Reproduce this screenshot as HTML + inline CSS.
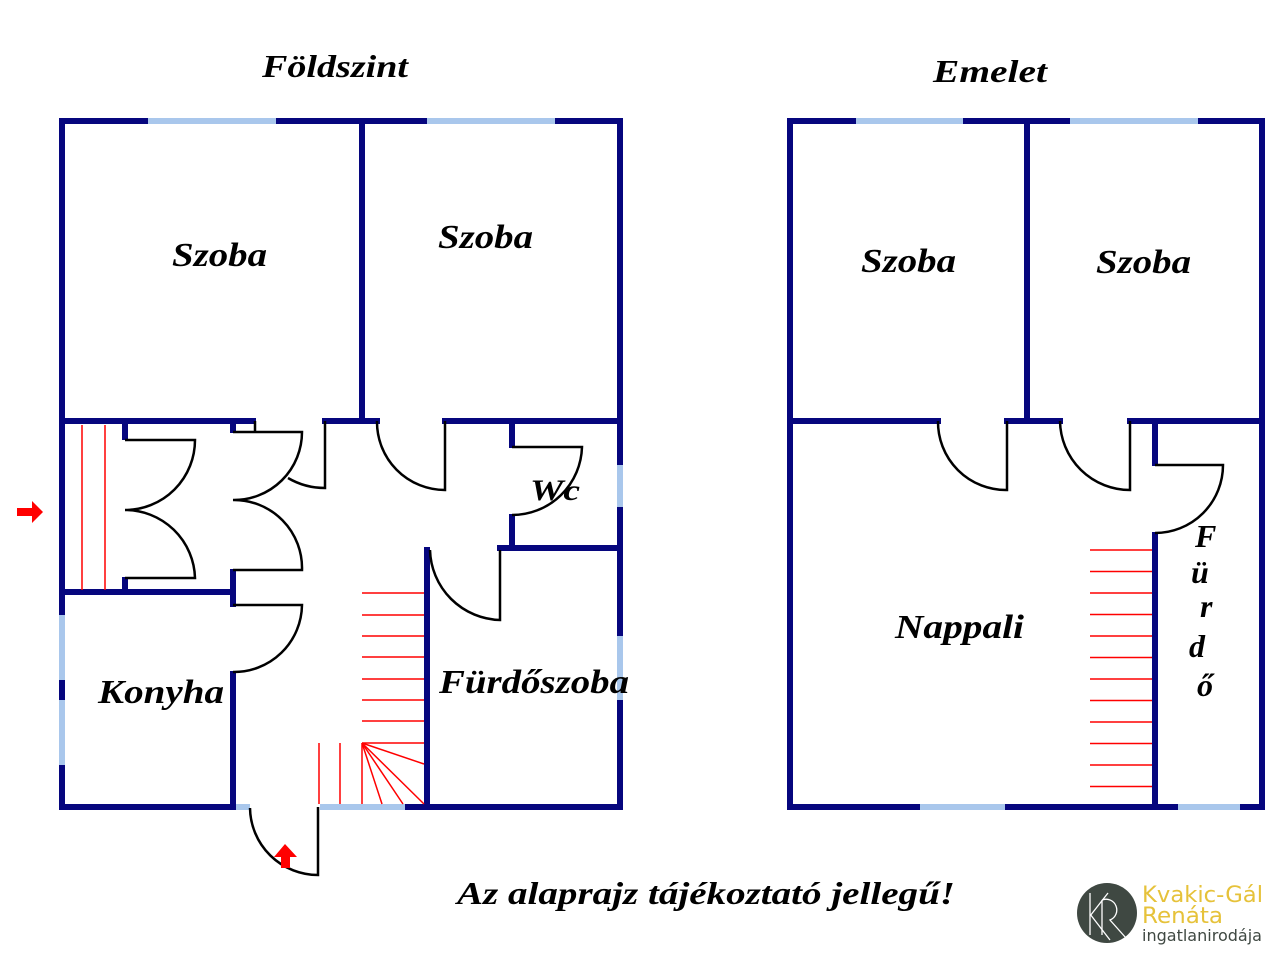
<!DOCTYPE html>
<html><head><meta charset="utf-8"><style>
html,body{margin:0;padding:0;background:#fff}
svg{display:block}
.t{font-family:"Liberation Serif",serif;font-weight:bold;font-style:italic;fill:#000}
</style></head><body>
<svg width="1280" height="960" viewBox="0 0 1280 960" xmlns="http://www.w3.org/2000/svg">
<g stroke="#06067e" stroke-width="6" stroke-linecap="square" fill="none">
<line x1="62" y1="121" x2="620" y2="121"/>
<line x1="62" y1="121" x2="62" y2="807"/>
<line x1="620" y1="121" x2="620" y2="807"/>
<line x1="62" y1="807" x2="233" y2="807"/>
<line x1="405" y1="807" x2="620" y2="807"/>
<line x1="362" y1="121" x2="362" y2="421"/>
<line x1="62" y1="421" x2="253" y2="421"/>
<line x1="325" y1="421" x2="377" y2="421"/>
<line x1="445" y1="421" x2="620" y2="421"/>
<line x1="125" y1="421" x2="125" y2="437"/>
<line x1="125" y1="580" x2="125" y2="592"/>
<line x1="62" y1="592" x2="233" y2="592"/>
<line x1="233" y1="421" x2="233" y2="430"/>
<line x1="233" y1="572" x2="233" y2="604"/>
<line x1="233" y1="674" x2="233" y2="807"/>
<line x1="512" y1="421" x2="512" y2="445"/>
<line x1="512" y1="517" x2="512" y2="548"/>
<line x1="500" y1="548" x2="620" y2="548"/>
<line x1="427" y1="550" x2="427" y2="807"/>
<line x1="790" y1="121" x2="1262" y2="121"/>
<line x1="790" y1="121" x2="790" y2="807"/>
<line x1="1262" y1="121" x2="1262" y2="807"/>
<line x1="790" y1="807" x2="1262" y2="807"/>
<line x1="1027" y1="121" x2="1027" y2="421"/>
<line x1="790" y1="421" x2="938" y2="421"/>
<line x1="1007" y1="421" x2="1060" y2="421"/>
<line x1="1130" y1="421" x2="1262" y2="421"/>
<line x1="1155" y1="421" x2="1155" y2="463"/>
<line x1="1155" y1="535" x2="1155" y2="807"/>
</g>
<g stroke="#a9c7ec" stroke-width="6" fill="none">
<line x1="148" y1="121" x2="276" y2="121"/>
<line x1="427" y1="121" x2="555" y2="121"/>
<line x1="620" y1="465" x2="620" y2="507"/>
<line x1="620" y1="636" x2="620" y2="700"/>
<line x1="62" y1="615" x2="62" y2="680"/>
<line x1="62" y1="700" x2="62" y2="765"/>
<line x1="320" y1="807" x2="405" y2="807"/>
<line x1="236" y1="807" x2="250" y2="807"/>
<line x1="856" y1="121" x2="963" y2="121"/>
<line x1="1070" y1="121" x2="1198" y2="121"/>
<line x1="920" y1="807" x2="1005" y2="807"/>
<line x1="1178" y1="807" x2="1240" y2="807"/>
</g>
<g stroke="#000" stroke-width="2.5" fill="none">
<path d="M125,440 L195,440 A70,70 0 0 1 125,510 A70,70 0 0 1 195,578 L125,578"/>
<path d="M233,432 L302,432 A68,68 0 0 1 233,500 A68,68 0 0 1 302,570 L233,570"/>
<line x1="255" y1="421" x2="255" y2="432"/>
<path d="M288,478 Q305,488 325,488 L325,421"/>
<path d="M233,605 L302,605 A68,68 0 0 1 233,672"/>
<path d="M377,421 A68,68 0 0 0 445,490 L445,421"/>
<path d="M512,447 L582,447 A70,70 0 0 1 512,515"/>
<path d="M430,550 A72,72 0 0 0 500,620 L500,550"/>
<path d="M250,808 A68,68 0 0 0 318,875 L318,807"/>
<path d="M938,421 A68,68 0 0 0 1007,490 L1007,421"/>
<path d="M1060,421 A70,70 0 0 0 1130,490 L1130,421"/>
<path d="M1155,465 L1223,465 A68,68 0 0 1 1155,533"/>
</g>
<g stroke="#f00" stroke-width="1.5" fill="none">
<line x1="82" y1="425" x2="82" y2="590"/>
<line x1="105" y1="425" x2="105" y2="590"/>
<line x1="362" y1="593" x2="424" y2="593"/>
<line x1="362" y1="615" x2="424" y2="615"/>
<line x1="362" y1="636" x2="424" y2="636"/>
<line x1="362" y1="657" x2="424" y2="657"/>
<line x1="362" y1="679" x2="424" y2="679"/>
<line x1="362" y1="700" x2="424" y2="700"/>
<line x1="362" y1="721" x2="424" y2="721"/>
<line x1="362" y1="743" x2="424" y2="743"/>
<line x1="362" y1="743" x2="424" y2="764"/>
<line x1="362" y1="743" x2="424" y2="804"/>
<line x1="362" y1="743" x2="403" y2="804"/>
<line x1="362" y1="743" x2="382" y2="804"/>
<line x1="362" y1="743" x2="362" y2="804"/>
<line x1="340" y1="743" x2="340" y2="804"/>
<line x1="319" y1="743" x2="319" y2="804"/>
<line x1="1090" y1="550" x2="1152" y2="550"/>
<line x1="1090" y1="571.5" x2="1152" y2="571.5"/>
<line x1="1090" y1="593" x2="1152" y2="593"/>
<line x1="1090" y1="614.5" x2="1152" y2="614.5"/>
<line x1="1090" y1="636" x2="1152" y2="636"/>
<line x1="1090" y1="657.5" x2="1152" y2="657.5"/>
<line x1="1090" y1="679" x2="1152" y2="679"/>
<line x1="1090" y1="700.5" x2="1152" y2="700.5"/>
<line x1="1090" y1="722" x2="1152" y2="722"/>
<line x1="1090" y1="743.5" x2="1152" y2="743.5"/>
<line x1="1090" y1="765" x2="1152" y2="765"/>
<line x1="1090" y1="786.5" x2="1152" y2="786.5"/>
</g>
<polygon fill="#f00" points="17,508 32,508 32,501 43,512 32,523 32,516 17,516"/>
<polygon fill="#f00" points="281,868 281,857 274,857 285,844 297,857 290,857 290,868"/>
<text class="t" x="262" y="77" font-size="32" textLength="146" lengthAdjust="spacingAndGlyphs">Földszint</text>
<text class="t" x="933" y="82" font-size="32" textLength="114" lengthAdjust="spacingAndGlyphs">Emelet</text>
<text class="t" x="172" y="266" font-size="34" textLength="95" lengthAdjust="spacingAndGlyphs">Szoba</text>
<text class="t" x="438" y="248" font-size="34" textLength="95" lengthAdjust="spacingAndGlyphs">Szoba</text>
<text class="t" x="861" y="272" font-size="34" textLength="95" lengthAdjust="spacingAndGlyphs">Szoba</text>
<text class="t" x="1096" y="273" font-size="34" textLength="95" lengthAdjust="spacingAndGlyphs">Szoba</text>
<text class="t" x="530" y="500" font-size="30" textLength="50" lengthAdjust="spacingAndGlyphs">Wc</text>
<text class="t" x="98" y="703" font-size="34" textLength="126" lengthAdjust="spacingAndGlyphs">Konyha</text>
<text class="t" x="439" y="693" font-size="34" textLength="190" lengthAdjust="spacingAndGlyphs">Fürdőszoba</text>
<text class="t" x="895" y="638" font-size="34" textLength="129" lengthAdjust="spacingAndGlyphs">Nappali</text>
<text class="t" x="1195" y="547" font-size="32">F</text>
<text class="t" x="1191" y="583" font-size="32">ü</text>
<text class="t" x="1200" y="617" font-size="32">r</text>
<text class="t" x="1189" y="657" font-size="32">d</text>
<text class="t" x="1197" y="696" font-size="32">ő</text>
<text class="t" x="457" y="904" font-size="32" textLength="498" lengthAdjust="spacingAndGlyphs">Az alaprajz tájékoztató jellegű!</text>
<circle cx="1107" cy="913" r="30" fill="#3f4842"/>
<g stroke="#fff" stroke-width="1.3" fill="none">
<line x1="1090" y1="893" x2="1090" y2="935"/>
<line x1="1090" y1="916" x2="1108" y2="893"/>
<line x1="1090" y1="914" x2="1110" y2="940"/>
<path d="M1102,900 A10,10 0 1 1 1110,920 L1126,938"/>
<line x1="1102" y1="900" x2="1102" y2="935"/>
</g>
<text x="1142" y="902" font-family="'DejaVu Sans','Liberation Sans',sans-serif" font-size="22" fill="#e6c23a" textLength="121" lengthAdjust="spacingAndGlyphs">Kvakic-Gál</text>
<text x="1142" y="923" font-family="'DejaVu Sans','Liberation Sans',sans-serif" font-size="22" fill="#e6c23a" textLength="81" lengthAdjust="spacingAndGlyphs">Renáta</text>
<text x="1142" y="941" font-family="'DejaVu Sans','Liberation Sans',sans-serif" font-size="16" fill="#3f4842" textLength="120" lengthAdjust="spacingAndGlyphs">ingatlanirodája</text>
</svg>
</body></html>
